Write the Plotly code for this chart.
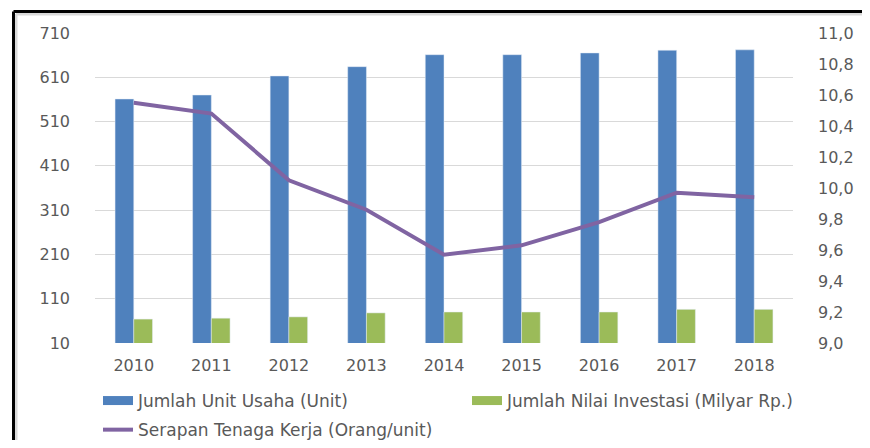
import plotly.graph_objects as go

years = ["2010", "2011", "2012", "2013", "2014", "2015", "2016", "2017", "2018"]
unit_usaha = [561, 570, 613, 634, 661, 661, 665, 671, 672]
nilai_investasi = [64, 66, 69, 78, 80, 80, 80, 86, 86]
serapan = [10.55, 10.48, 10.05, 9.86, 9.57, 9.63, 9.78, 9.97, 9.94]

name_unit = "Jumlah Unit Usaha (Unit)"
name_inv = "Jumlah Nilai Investasi (Milyar Rp.)"
name_ser = "Serapan Tenaga Kerja (Orang/unit)"

BLUE = "#4F81BD"
GREEN = "#9BBB59"
PURPLE = "#8064A2"
TXT = "#595959"
FONT = "DejaVu Sans"
FS = 16
FS_LEG = 17

# page body has an 8px margin; design in screen coords and shift
OFF = 8
W, H = 870 - 2 * OFF, 448 - 2 * OFF
PLOT_L, PLOT_R, PLOT_T, PLOT_B = 95, 793, 33, 343  # screen coords
L, T = PLOT_L - OFF, PLOT_T - OFF
R, B = W - (PLOT_R - OFF), H - (PLOT_B - OFF)
PW, PH = PLOT_R - PLOT_L, PLOT_B - PLOT_T

def px_x(p):
    return (p - PLOT_L) / PW

def px_y(p):
    return (PLOT_B - p) / PH

fig = go.Figure()
fig.add_trace(go.Bar(x=years, y=unit_usaha, name=name_unit, marker_color=BLUE,
                     showlegend=False, yaxis="y"))
fig.add_trace(go.Bar(x=years, y=nilai_investasi, name=name_inv, marker_color=GREEN,
                     showlegend=False, yaxis="y"))
fig.add_trace(go.Scatter(x=years, y=serapan, name=name_ser, mode="lines",
                         line=dict(color=PURPLE, width=4), yaxis="y2", showlegend=False))
# legend entries
fig.add_trace(go.Scatter(x=[None], y=[None], name=name_unit, mode="lines",
                         line=dict(color=BLUE, width=9), legend="legend",
                         legendgroup="a"))
fig.add_trace(go.Scatter(x=[None], y=[None], name=name_ser, mode="lines",
                         line=dict(color=PURPLE, width=4), yaxis="y2",
                         legend="legend", legendgroup="b"))
fig.add_trace(go.Scatter(x=[None], y=[None], name=name_inv, mode="lines",
                         line=dict(color=GREEN, width=9), legend="legend2"))

leg_common = dict(orientation="v", xanchor="left", yanchor="top", itemwidth=30,
                  font=dict(family=FONT, size=FS_LEG, color=TXT),
                  bgcolor="rgba(0,0,0,0)", traceorder="grouped")

def frame_lines(x, y, color, width, layer):
    return [
        dict(type="line", xref="paper", yref="paper",
             x0=px_x(x), x1=px_x(900), y0=px_y(y), y1=px_y(y),
             line=dict(color=color, width=width), layer=layer),
        dict(type="line", xref="paper", yref="paper",
             x0=px_x(x), x1=px_x(x), y0=px_y(y), y1=px_y(500),
             line=dict(color=color, width=width), layer=layer),
    ]

fig.update_layout(
    width=W, height=H,
    margin=dict(l=L, r=R, t=T, b=B, pad=0, autoexpand=False),
    paper_bgcolor="white", plot_bgcolor="white",
    separators=",.",
    font=dict(family=FONT, size=FS, color=TXT),
    barmode="group", bargap=0.517, bargroupgap=0,
    xaxis=dict(type="category", showgrid=False, showline=False, zeroline=False,
               ticks="", ticklabelstandoff=11, tickfont=dict(size=FS, color=TXT)),
    yaxis=dict(range=[10, 710], tick0=10, dtick=100, showgrid=True,
               gridcolor="#D9D9D9", gridwidth=1, zeroline=False, showline=False,
               ticks="", ticklabelstandoff=24, tickfont=dict(size=FS, color=TXT)),
    yaxis2=dict(range=[9, 11], dtick=0.2, tickformat=".1f", overlaying="y",
                side="right", showgrid=False, zeroline=False, showline=False,
                ticks="", ticklabelstandoff=24, tickfont=dict(size=FS, color=TXT)),
    legend=dict(x=px_x(98), y=px_y(383), tracegroupgap=4, **leg_common),
    legend2=dict(x=px_x(467), y=px_y(383), **leg_common),
    shapes=frame_lines(16, 14, "#D9D9D9", 3, "below")
           + frame_lines(13.5, 11.5, "black", 3, "above"),
)

fig.write_html("out.html")
